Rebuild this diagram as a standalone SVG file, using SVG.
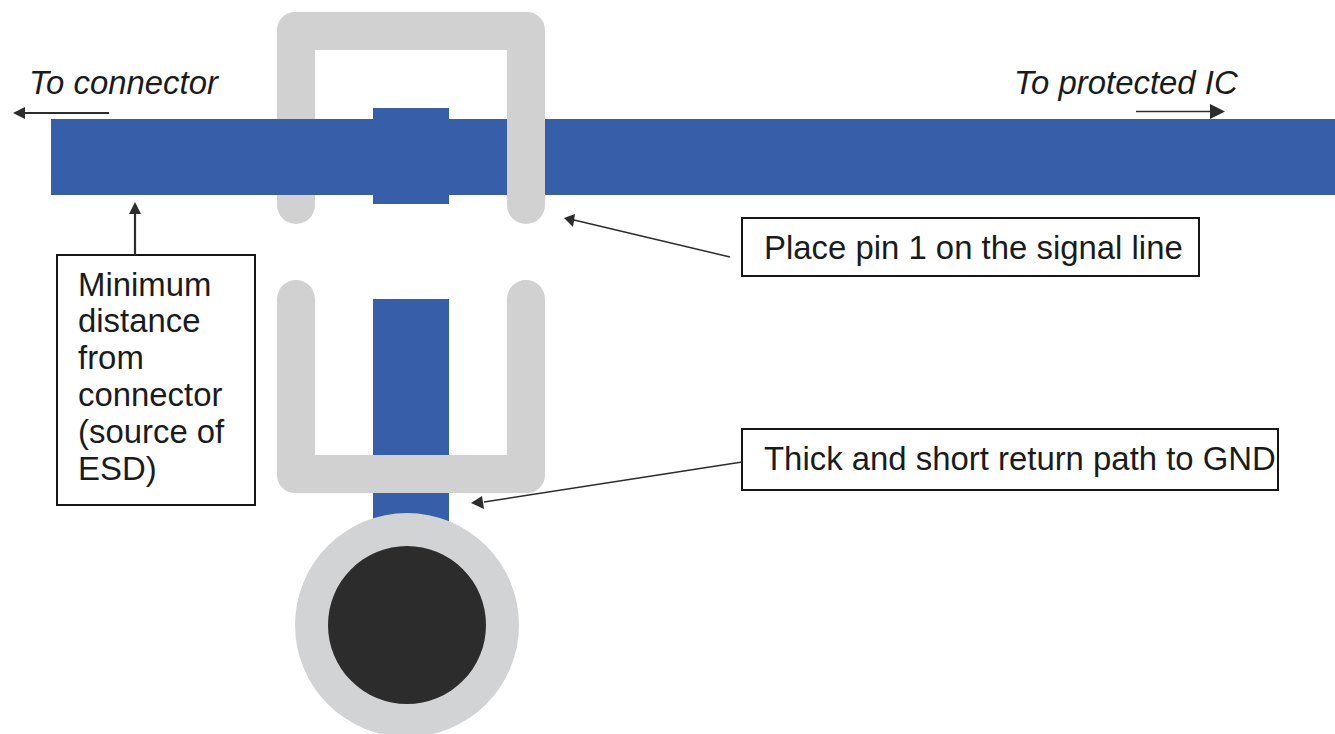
<svg xmlns="http://www.w3.org/2000/svg" width="1335" height="734" viewBox="0 0 1335 734">
<style>
.t{font-family:"Liberation Sans",Arial,sans-serif;font-size:32.9px;fill:#1a1c1c}
.i{font-style:italic}
.box{fill:#fff;stroke:#151718;stroke-width:2}
.ln{stroke:#2d2c2d;fill:none}
.head{fill:#2d2c2d}
.pad{fill:#d1d1d1}
.tr{fill:#375fa9}
</style>
<rect width="1335" height="734" fill="#fff"/>
<g id="trace-vertical"><rect class="tr" x="373" y="299" width="76" height="225"/></g>
<g id="signal-trace"><rect class="tr" x="51" y="119" width="1284" height="76"/></g>
<g id="pad-top-back"><path class="pad" d="M277 119V30A18 18 0 0 1 295 12H527A18 18 0 0 1 545 30V205A19 19 0 0 1 507 205V50H315V119Z"/></g>
<g id="pin-pad"><rect class="tr" x="373" y="108" width="76" height="96"/></g>
<g id="signal-trace-front"><rect class="tr" x="51" y="119" width="456" height="76"/></g>
<g id="pad-top-left-stub"><path class="pad" d="M277 195H315V205A19 19 0 0 1 277 205Z"/></g>
<g id="pad-bottom"><path class="pad" d="M277 299A19 19 0 0 1 315 299V455H507V299A19 19 0 0 1 545 299V475A18 18 0 0 1 527 493H295A18 18 0 0 1 277 475Z"/></g>
<g id="via"><circle cx="407" cy="625" r="112" fill="#d2d3d5"/><circle cx="407" cy="625" r="79" fill="#2d2c2d"/></g>
<g id="label-connector"><text class="t i" x="29" y="94">To connector</text></g>
<g id="label-ic"><text class="t i" x="1014" y="94">To protected IC</text></g>
<g id="box-distance"><rect class="box" x="57" y="255" width="198" height="250"/>
<text class="t"><tspan x="78" y="296">Minimum</tspan><tspan x="78" y="332">distance</tspan><tspan x="78" y="369">from</tspan><tspan x="78" y="406">connector</tspan><tspan x="78" y="443">(source of</tspan><tspan x="78" y="480">ESD)</tspan></text></g>
<g id="box-pin"><rect class="box" x="742" y="218" width="457" height="58"/><text class="t" x="764" y="259">Place pin 1 on the signal line</text></g>
<g id="box-gnd"><rect class="box" x="742" y="429" width="536" height="61"/><text class="t" x="764" y="470">Thick and short return path to GND</text></g>
<g id="connectors">
<path class="ln" stroke-width="2.2" d="M109 113H22"/><path class="head" d="M13 113L25 107V119Z"/>
<path class="ln" stroke-width="1.5" d="M1136 111.500H1212"/><path class="head" d="M1225 111.500L1210 104V119Z"/>
<path class="ln" stroke-width="2.200" d="M135 255V212"/><path class="head" d="M135 202L129 214H141Z"/>
<path class="ln" stroke-width="1.500" d="M730 257L574 220"/><path class="head" d="M564 218L575 214L573 227Z"/>
<path class="ln" stroke-width="1.500" d="M742 462L484 502"/><path class="head" d="M471 503L482 496L484 509Z"/>
</g>
</svg>
